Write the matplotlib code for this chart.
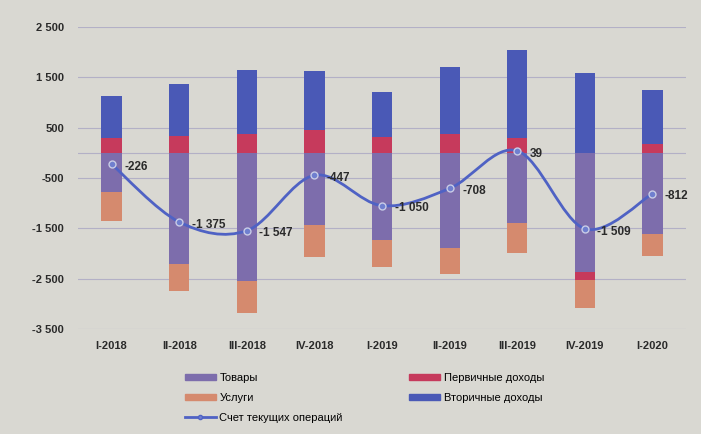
import numpy as np
import matplotlib.pyplot as plt
from matplotlib.path import Path
from matplotlib.patches import PathPatch
from matplotlib.ticker import FuncFormatter
from matplotlib.lines import Line2D
from matplotlib.patches import Patch

plt.rcParams['font.family'] = ['Liberation Sans', 'DejaVu Sans']

# данные (млн долл.)
quarters = ['I-2018', 'II-2018', 'III-2018', 'IV-2018', 'I-2019',
            'II-2019', 'III-2019', 'IV-2019', 'I-2020']
goods = [-780, -2210, -2540, -1440, -1730, -1900, -1400, -2370, -1620]
services = [-570, -530, -650, -630, -530, -510, -600, -570, -440]
primary = [300, 330, 370, 450, 310, 380, 290, -150, 180]
secondary = [824, 1035, 1273, 1173, 900, 1322, 1749, 1581, 1068]
current = [-226, -1375, -1547, -447, -1050, -708, 39, -1509, -812]

c_goods = '#7d6dac'
c_serv = '#d58a6e'
c_prim = '#c63a5c'
c_sec = '#4a59b6'
c_line = '#4f62c4'
bg = '#d9d8d2'

fig = plt.figure(figsize=(7.01, 4.34), dpi=100, facecolor=bg)
ax = fig.add_axes([0.111, 0.242, 0.868, 0.696], facecolor=bg)

x = np.arange(len(quarters))
w = 0.3

# отдельно складываем положительные и отрицательные части
pos_base = np.zeros(len(x))
neg_base = np.zeros(len(x))
for vals, col in [(goods, c_goods), (primary, c_prim), (services, c_serv), (secondary, c_sec)]:
    v = np.array(vals, dtype=float)
    bottoms = np.where(v >= 0, pos_base, neg_base)
    ax.bar(x, v, w, bottom=bottoms, color=col, zorder=2)
    pos_base = pos_base + np.where(v >= 0, v, 0)
    neg_base = neg_base + np.where(v < 0, v, 0)

# сглаженная линия (Catmull-Rom -> Безье)
cy = np.array(current, dtype=float)
pts = np.column_stack([x, cy])
verts = [pts[0]]
codes = [Path.MOVETO]
for i in range(len(pts) - 1):
    p0 = pts[i - 1] if i > 0 else pts[i]
    p1 = pts[i]
    p2 = pts[i + 1]
    p3 = pts[i + 2] if i + 2 < len(pts) else pts[i + 1]
    c1 = p1 + (p2 - p0) / 6
    c2 = p2 - (p3 - p1) / 6
    verts += [c1, c2, p2]
    codes += [Path.CURVE4] * 3
ax.add_patch(PathPatch(Path(verts, codes), fill=False, edgecolor=c_line, lw=2, zorder=3))
ax.plot(x, cy, 'o', ms=5, mfc='#6f7fcf', mec='#c9cce6', mew=1, zorder=4)

def fmt(v):
    return f'{v:,.0f}'.replace(',', ' ')

for xi, v in zip(x, current):
    ax.annotate(fmt(v), (xi, v), xytext=(9, -2), textcoords='offset points',
                fontsize=8.5, fontweight='bold', color='#2a2a2a', va='center', ha='left', zorder=5)

ax.set_xlim(-0.5, len(x) - 0.5)
ax.set_ylim(-3500, 2500)
ax.set_yticks([2500, 1500, 500, -500, -1500, -2500, -3500])
ax.yaxis.set_major_formatter(FuncFormatter(lambda v, p: fmt(v)))
ax.set_xticks(x)
ax.set_xticklabels(quarters)
for lbl in ax.get_xticklabels() + ax.get_yticklabels():
    lbl.set_fontsize(8)
    lbl.set_fontweight('bold')
    lbl.set_color('#2a2a2a')
ax.tick_params(length=0, pad=9)
ax.tick_params(axis='y', pad=10)
ax.grid(axis='y', color='#b3b0c6', lw=0.8, zorder=0)
ax.axhline(0, color='#b3b0c6', lw=0.8, zorder=1)
for s in ax.spines.values():
    s.set_visible(False)

handles = [Patch(color=c_goods), Patch(color=c_serv),
           Line2D([], [], color=c_line, lw=2, marker='o', ms=3, mfc='#6f7fcf'),
           Patch(color=c_prim), Patch(color=c_sec)]
labels = ['Товары', 'Услуги', 'Счет текущих операций', 'Первичные доходы', 'Вторичные доходы']
fig.legend(handles, labels, ncol=2, loc='center', bbox_to_anchor=(0.52, 0.083),
           frameon=False, fontsize=8, handlelength=2.8, handleheight=0.5,
           columnspacing=6, labelspacing=0.9, handletextpad=0.3)

fig.savefig('out.png', dpi=100, facecolor=bg)
